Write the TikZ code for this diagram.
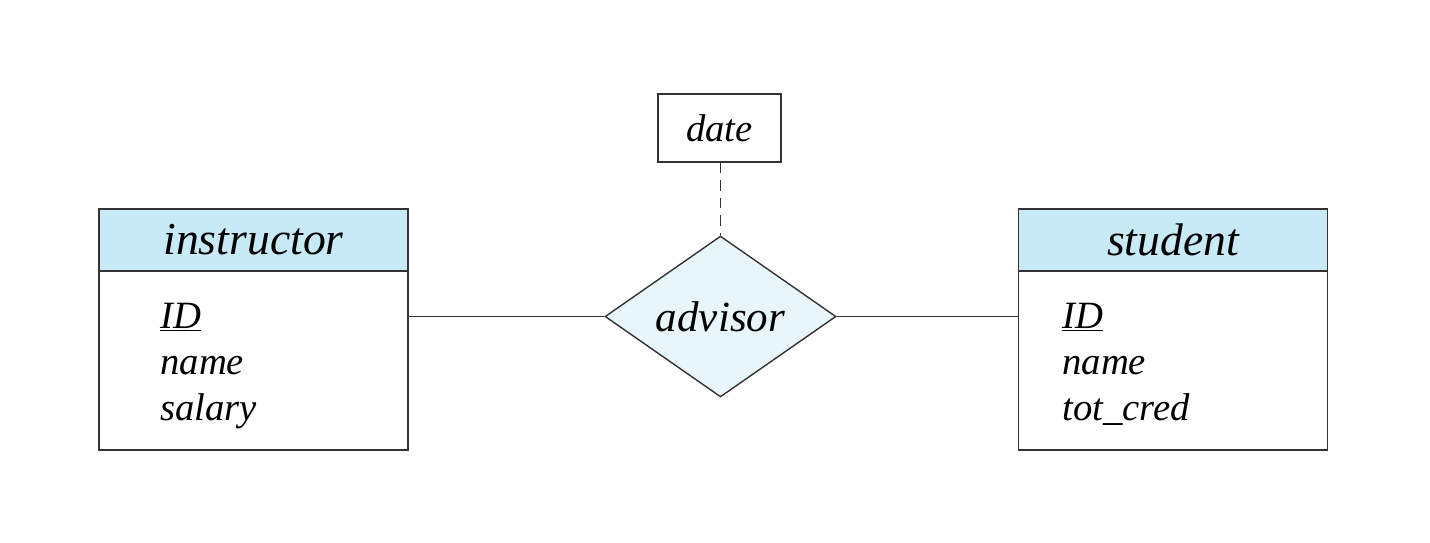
\documentclass[tikz,border=0pt]{standalone}
\usepackage{fontspec}
\setmainfont{Liberation Serif}
\usetikzlibrary{shapes.geometric}
\definecolor{hdr}{HTML}{C8E9F6}
\definecolor{rel}{HTML}{E8F6FC}
\begin{document}
\begin{tikzpicture}[x=0.02cm,y=-0.02cm,
  line/.style={draw=black!80,line width=0.8pt},
  hdrbox/.style={line,fill=hdr,minimum width=6.18cm,minimum height=1.24cm,inner sep=0pt,font=\fontsize{26}{30}\selectfont\itshape},
  bodybox/.style={line,fill=white,minimum width=6.18cm,minimum height=3.58cm,inner sep=0pt},
  attr/.style={anchor=base west,inner sep=0pt,font=\fontsize{22}{26}\selectfont\itshape},
  attrbox/.style={line,fill=white,minimum width=2.46cm,minimum height=1.36cm,inner sep=0pt,font=\fontsize{22}{26}\selectfont\itshape},
  relbox/.style={line,fill=rel,diamond,aspect=1.435,minimum width=4.62cm,minimum height=3.22cm,inner sep=0pt,font=\fontsize{24.5}{28}\selectfont\itshape}]
\useasboundingbox (0,0) rectangle (1430,542);
\node[hdrbox] (ih) at (253.5,240) {instructor};
\node[bodybox] (ib) at (253.5,360.5) {};
\node[attr] (iid) at (160,328) {\underline{ID}};
\node[attr] (iname) at (160,374) {name};
\node[attr] (isal) at (160,420) {salary};
\node[hdrbox] (sh) at (1173,240) {student};
\node[bodybox] (sb) at (1173,360.5) {};
\node[attr] (sid) at (1062,328) {\underline{ID}};
\node[attr] (sname) at (1062,374) {name};
\node[attr] (stot) at (1062,420) {tot\_cred};
\node[attrbox] (date) at (719.5,128) {date};
\node[relbox] (adv) at (720.5,316.5) {advisor};
\draw[line] (ib.east |- adv) -- (adv.west);
\draw[line] (adv.east) -- (sb.west |- adv);
\draw[line,dashed,dash pattern=on 6pt off 4pt] (date.south -| adv.north) -- (adv.north);
\end{tikzpicture}
\end{document}
